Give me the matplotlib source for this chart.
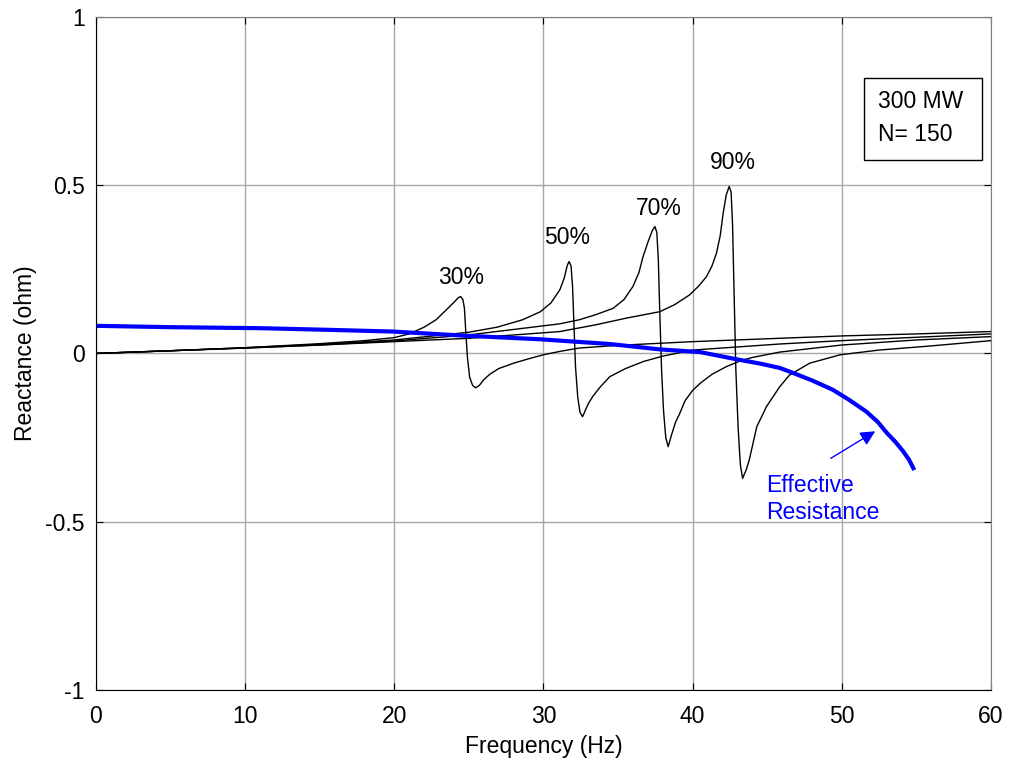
import matplotlib
matplotlib.use("Agg")
import matplotlib.pyplot as plt
from matplotlib.patches import Rectangle

plt.rcParams['font.family'] = ['Liberation Sans', 'DejaVu Sans']

# --- data (Frequency Hz, Reactance ohm) ---
f30 = [0, 5, 10, 15, 18, 20, 21.0, 22.0, 22.8, 23.5, 24.0, 24.3, 24.45, 24.6, 24.7, 24.8, 24.9, 25.05, 25.25,
       25.45, 25.7, 26.0, 26.4, 27.0, 28.0, 29.0, 30.0, 31.1, 32.4, 35, 40, 45.84, 50, 55, 60]
x30 = [0, 0.008, 0.017, 0.029, 0.038, 0.047, 0.058, 0.078, 0.10, 0.13, 0.152, 0.166, 0.169, 0.16, 0.135, 0.06, -0.01, -0.07, -0.095,
       -0.102, -0.095, -0.078, -0.062, -0.045, -0.029, -0.016, -0.004, 0.006, 0.016, 0.024, 0.035, 0.045, 0.052, 0.058, 0.065]

f50 = [0, 5, 10, 15, 20, 25, 26.9, 28.6, 29.8, 30.5, 31.1, 31.4, 31.6, 31.72, 31.85, 31.95, 32.05, 32.15, 32.3,
       32.45, 32.62, 32.8, 33.0, 33.3, 33.8, 34.45, 35.5, 36.7, 38.0, 40, 45.84, 50, 55, 60]
x50 = [0, 0.008, 0.017, 0.027, 0.04, 0.063, 0.078, 0.10, 0.124, 0.15, 0.189, 0.225, 0.262, 0.273, 0.26, 0.2, 0.08, -0.04, -0.13,
       -0.175, -0.188, -0.17, -0.15, -0.128, -0.1, -0.069, -0.045, -0.024, -0.008, 0.01, 0.028, 0.038, 0.048, 0.058]

f70 = [0, 5, 10, 15, 20, 25, 31.1, 32.4, 33.5, 34.67, 35.4, 36.0, 36.4, 36.68, 37.0, 37.3, 37.47, 37.6, 37.7, 37.8,
       37.92, 38.05, 38.2, 38.36, 38.6, 38.85, 39.14, 39.5, 40.0, 40.5, 41.3, 42.27, 43.2, 44.0, 45.84, 50, 55, 60]
x70 = [0, 0.008, 0.016, 0.025, 0.037, 0.055, 0.088, 0.10, 0.115, 0.134, 0.16, 0.199, 0.24, 0.288, 0.33, 0.365, 0.377, 0.36, 0.28, 0.12,
       -0.05, -0.17, -0.25, -0.277, -0.24, -0.205, -0.178, -0.14, -0.11, -0.089, -0.062, -0.039, -0.022, -0.012, 0.004, 0.025, 0.04, 0.05]

f90 = [0, 5, 10, 15, 20, 25, 31.1, 33.5, 35.57, 37.8, 38.8, 39.8, 40.4, 40.93, 41.3, 41.6, 41.85, 42.05, 42.25, 42.45, 42.58,
       42.68, 42.78, 42.9, 43.05, 43.2, 43.35, 43.6, 43.8, 44.3, 44.95, 45.84, 46.5, 47.85, 49.9, 52.5, 55.9, 60]
x90 = [0, 0.008, 0.016, 0.025, 0.035, 0.045, 0.065, 0.085, 0.105, 0.124, 0.145, 0.174, 0.2, 0.228, 0.26, 0.298, 0.35, 0.417, 0.47, 0.496, 0.48,
       0.38, 0.18, -0.05, -0.22, -0.33, -0.371, -0.345, -0.316, -0.218, -0.158, -0.099, -0.064, -0.029, -0.004, 0.01, 0.022, 0.038]

f_res = [0, 5, 11, 15.7, 19.9, 24.6, 29.8, 31.1, 34.45, 37.8, 40.5, 42.9, 44.5, 45.84, 46.5, 48.0, 49.4,
         50.5, 51.65, 52.4, 53.0, 53.6, 54.1, 54.5, 54.8]
x_res = [0.082, 0.078, 0.075, 0.07, 0.065, 0.053, 0.042, 0.038, 0.028, 0.012, 0.004, -0.017, -0.03, -0.043, -0.054, -0.08, -0.108,
         -0.138, -0.173, -0.203, -0.235, -0.263, -0.29, -0.315, -0.341]

pct_labels = ['30%', '50%', '70%', '90%']
pct_pos = [(24.46, 0.227), (31.57, 0.343), (37.73, 0.432), (42.7, 0.566)]

x_ticks = [0, 10, 20, 30, 40, 50, 60]
y_ticks = [-1, -0.5, 0, 0.5, 1]
y_tick_labels = ['-1', '-0.5', '0', '0.5', '1']

FS = 16.5

fig = plt.figure(figsize=(10.09, 7.65), dpi=100)
ax = fig.add_axes([0.0951, 0.098, 0.887, 0.880])

ax.grid(True, color='#a6a6a6', lw=1.0)
ax.set_axisbelow(True)

for fx, xx in [(f30, x30), (f50, x50), (f70, x70), (f90, x90)]:
    ax.plot(fx, xx, color='black', lw=1.0)
ax.plot(f_res, x_res, color='#0000ff', lw=3.0)

for lab, (px, py) in zip(pct_labels, pct_pos):
    ax.text(px, py, lab, ha='center', va='center', fontsize=FS)

ax.annotate('', xy=(52.4, -0.227), xytext=(49.1, -0.316),
            arrowprops=dict(arrowstyle='-|>', color='#0000ff', lw=1.0, mutation_scale=22))
ax.text(44.9, -0.391, 'Effective', color='#0000ff', fontsize=FS, ha='left', va='center')
ax.text(44.9, -0.474, 'Resistance', color='#0000ff', fontsize=FS, ha='left', va='center')

ax.add_patch(Rectangle((51.48, 0.575), 7.92, 0.244, facecolor='white', edgecolor='black', lw=1.0, zorder=5))
ax.text(52.4, 0.747, '300 MW', fontsize=FS, ha='left', va='center', zorder=6)
ax.text(52.4, 0.649, 'N= 150', fontsize=FS, ha='left', va='center', zorder=6)

ax.set_xlim(0, 60)
ax.set_ylim(-1, 1)
ax.set_xticks(x_ticks)
ax.set_yticks(y_ticks)
ax.set_yticklabels(y_tick_labels)
ax.tick_params(direction='in', length=5, top=True, right=True, labelsize=FS)
ax.tick_params(axis='x', pad=11)
ax.tick_params(axis='y', pad=8)
ax.set_xlabel('Frequency (Hz)', fontsize=FS, labelpad=4.5)
ax.set_ylabel('Reactance (ohm)', fontsize=FS, labelpad=6)
for s in ['left', 'bottom']:
    ax.spines[s].set_color('black')
for s in ['top', 'right']:
    ax.spines[s].set_color('#808080')

fig.savefig('out.png', dpi=100, facecolor='white')
